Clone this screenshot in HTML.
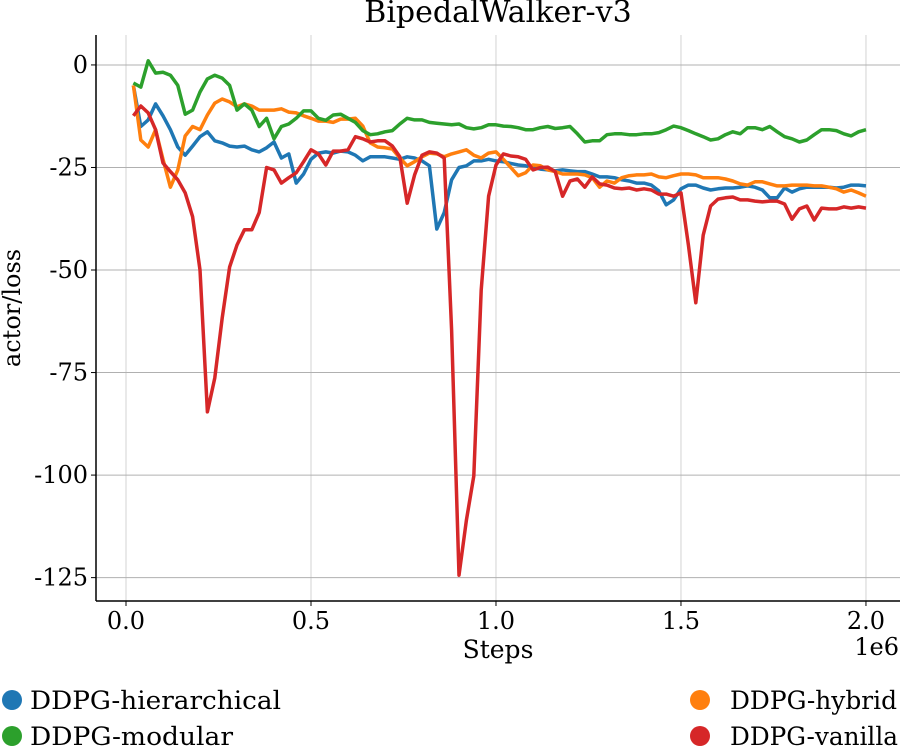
<!DOCTYPE html>
<html><head><meta charset="utf-8">
<style>
body{margin:0;background:#fff;}
svg{display:block;font-family:"DejaVu Serif","Liberation Serif",serif;}
</style></head>
<body>
<svg id="chart" width="900" height="750">
<text x="498" y="22" text-anchor="middle" font-size="30">BipedalWalker-v3</text>
<g id="grid"></g>
<g id="series"></g>
<g id="axes"></g>
<text x="498" y="658" text-anchor="middle" font-size="25">Steps</text>
<text x="899" y="655" text-anchor="end" font-size="24">1e6</text>
<text transform="translate(20,308) rotate(-90)" text-anchor="middle" font-size="24">actor/loss</text>
<g id="legend"></g>
</svg>
<script>
const seriesNames=["DDPG-hierarchical","DDPG-hybrid","DDPG-modular","DDPG-vanilla"];
const colors=["#1f77b4","#ff7f0e","#2ca02c","#d62728"];
const xTicks=[0,0.5,1.0,1.5,2.0];
const xTickLabels=["0.0","0.5","1.0","1.5","2.0"];
const yTicks=[0,-25,-50,-75,-100,-125];
const yTickLabels=["0","-25","-50","-75","-100","-125"];
const hierarchical=[-5,-15,-13.4,-9.5,-12.4,-15.8,-20,-22,-19.8,-17.5,-16.3,-18.5,-19,-19.8,-20,-19.8,-20.7,-21.2,-20.2,-18.8,-22.7,-21.7,-28.8,-26.6,-23,-21.5,-21.2,-21.5,-21,-21.2,-22,-23.4,-22.4,-22.4,-22.4,-22.7,-23,-22.4,-22.7,-23.4,-24.6,-40,-36,-28,-25,-24.6,-23.4,-23.4,-23,-23.4,-23.6,-24,-24.4,-24.6,-25,-25.4,-25.6,-25.8,-25.6,-25.8,-26,-26,-26.6,-27.3,-27.3,-27.5,-28,-28.3,-28.8,-28.8,-29.3,-30.7,-34.1,-32.9,-30.2,-29.3,-29.3,-30,-30.5,-30.2,-30,-30,-29.8,-29.5,-29.8,-30.5,-32.4,-32.4,-30,-31,-30.2,-29.8,-29.8,-29.8,-29.8,-30,-29.8,-29.3,-29.3,-29.5];
const hybrid=[-5,-18.3,-20,-15.8,-23,-29.8,-25.6,-17.3,-15,-15.8,-12.2,-9.3,-8.3,-9,-10.2,-9.5,-10,-11,-11,-11,-10.7,-11.5,-11.7,-12.4,-13,-13.7,-13.7,-14,-13.2,-13.2,-13,-14.9,-19,-20,-20.2,-20.5,-22.7,-24.6,-23.6,-22.4,-21.5,-21.7,-22.4,-21.7,-21.2,-20.7,-22,-22.7,-21.5,-21.2,-23,-25,-27,-26.3,-24.4,-24.6,-25.6,-26,-26.6,-26.6,-26.6,-26.8,-27.5,-29.8,-28.3,-28.8,-27.5,-27,-26.8,-26.8,-26.6,-27.3,-27.5,-27,-26.6,-26.6,-26.8,-27.5,-27.5,-27.5,-27.8,-28.3,-29,-29.3,-28.5,-28.5,-29,-29.5,-29.5,-29.3,-29.3,-29.3,-29.5,-29.5,-29.8,-30.2,-31,-30.5,-31.2,-32];
const modular=[-4.4,-5.4,1,-2,-1.8,-2.5,-5,-12,-11,-6.6,-3.4,-2.5,-3.2,-5,-11,-9.5,-11,-15,-13,-18,-15,-14.4,-13,-11.2,-11.2,-13,-13.5,-12.2,-12,-13,-14,-16,-17,-16.8,-16.3,-16,-14.4,-13,-13.4,-13.4,-14,-14.2,-14.4,-14.6,-14.4,-15.3,-15.6,-15.3,-14.6,-14.6,-14.9,-15,-15.3,-15.8,-15.8,-15.3,-15,-15.5,-15.3,-15,-16.8,-18.8,-18.5,-18.5,-17,-16.8,-16.8,-17,-17,-16.8,-16.8,-16.5,-15.8,-14.9,-15.3,-16,-16.8,-17.5,-18.3,-18,-17,-16.3,-16.8,-15.3,-15.3,-15.8,-15,-16.3,-17.5,-18,-18.8,-18.3,-17,-15.8,-15.8,-16,-16.8,-17.3,-16.3,-15.8];
const vanilla=[-12.4,-10,-11.7,-15.8,-23.9,-26,-28,-31.2,-37,-50,-84.6,-76.3,-61.7,-49.3,-43.9,-40.2,-40.2,-36,-25,-25.6,-28.8,-27.5,-26.3,-23.6,-20.7,-21.7,-24.4,-21,-21,-20.7,-17.5,-18,-18.8,-18.5,-18.5,-19.8,-22.4,-33.7,-26.8,-22,-21.2,-21.5,-22.7,-64.6,-124.4,-111,-100.2,-54.9,-32,-24.4,-21.7,-22.2,-22.4,-23,-25.6,-25,-24.9,-26,-32,-28.3,-27.8,-29.8,-27.3,-29,-29.3,-30,-30.2,-30,-30.5,-30.2,-30.5,-31.5,-31.5,-32,-31.2,-43.9,-58,-41.5,-34.4,-32.7,-32.4,-32.2,-32.9,-32.9,-33.2,-33.4,-33.2,-33.2,-33.9,-37.6,-35.1,-34.4,-37.8,-34.9,-35.1,-35.1,-34.6,-34.9,-34.6,-34.9];
const allSeries=[hierarchical,hybrid,modular,vanilla];
const stepSize=0.02;

const L=96,R=900,T=35,B=601;
const xMin=-0.0811,xMax=2.092,yMax=7.3,yMin=-130.7;
function xs(v){return L+(v-xMin)/(xMax-xMin)*(R-L);}
function ys(v){return T+(yMax-v)/(yMax-yMin)*(B-T);}
const NS="http://www.w3.org/2000/svg";
function mk(tag,attrs,parent){const e=document.createElementNS(NS,tag);for(const k in attrs)e.setAttribute(k,attrs[k]);parent.appendChild(e);return e;}
const grid=document.getElementById('grid'),axes=document.getElementById('axes'),ser=document.getElementById('series'),leg=document.getElementById('legend');
xTicks.forEach((t,i)=>{
  const x=xs(t);
  const g=mk('line',{x1:x,x2:x,y1:T,y2:B,stroke:'#d3d3d3','stroke-width':1},grid);
  
  
  const tk=mk('line',{x1:x,x2:x,y1:B,y2:B+5,stroke:'#000','stroke-width':1},axes);
  
  
  const lb=mk('text',{x:x,y:B+28,'text-anchor':'middle','font-size':24},axes);
  lb.textContent=xTickLabels[i];
  
  
});
yTicks.forEach((t,i)=>{
  const y=ys(t);
  const g=mk('line',{x1:L,x2:R,y1:y,y2:y,stroke:'#b0b0b0','stroke-width':1},grid);
  
  
  const tk=mk('line',{x1:L-5,x2:L,y1:y,y2:y,stroke:'#000','stroke-width':1},axes);
  
  
  const lb=mk('text',{x:L-8,y:y+8,'text-anchor':'end','font-size':24},axes);
  lb.textContent=yTickLabels[i];
  
  
});
const sp1=mk('line',{x1:L,x2:L,y1:T,y2:B,stroke:'#000','stroke-width':1.5},axes);


const sp2=mk('line',{x1:L,x2:R,y1:B,y2:B,stroke:'#000','stroke-width':1.5},axes);


[0,1,2,3].forEach(si=>{
  const d=allSeries[si].map((v,i)=>(i?'L':'M')+xs(stepSize*(i+1)).toFixed(1)+','+ys(v).toFixed(1)).join(' ');
  const p=mk('path',{d:d,fill:'none',stroke:colors[si],'stroke-width':3.5,'stroke-linejoin':'round'},ser);
  
  
});
const legPos=[[12,700,30,251],[700,700,730,167],[12,736,30,203],[700,736,730,168]];
seriesNames.forEach((n,i)=>{
  const [x,y,tx,w]=legPos[i];
  const c=mk('circle',{cx:x,cy:y,r:10,fill:colors[i]},leg);
  
  
  const t=mk('text',{x:tx,y:y+9,'font-size':25,textLength:w,lengthAdjust:'spacingAndGlyphs'},leg);
  t.textContent=n;
  
  
});
</script>
</body></html>
